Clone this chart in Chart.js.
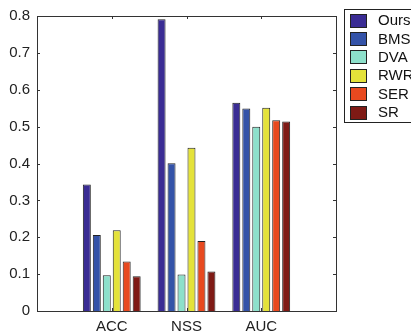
<!DOCTYPE html>
<html>
<head>
<meta charset="utf-8">
<script src="https://cdn.jsdelivr.net/npm/chart.js@4/dist/chart.umd.min.js"></script>
<style>
  html, body { margin: 0; padding: 0; background: #fff; }
  #wrap { width: 411px; height: 335px; }
</style>
</head>
<body>
<div id="wrap"><canvas id="chart" width="411" height="335"></canvas></div>
<script>
// --- data ---
const categories = ['ACC', 'NSS', 'AUC'];
const methods = ['Ours', 'BMS', 'DVA', 'RWR', 'SER', 'SR'];
const ours = [0.343, 0.791, 0.565];
const bms  = [0.206, 0.401, 0.549];
const dva  = [0.097, 0.099, 0.500];
const rwr  = [0.219, 0.443, 0.551];
const ser  = [0.134, 0.190, 0.517];
const sr   = [0.094, 0.107, 0.514];
const yTicks = [0, 0.1, 0.2, 0.3, 0.4, 0.5, 0.6, 0.7, 0.8];

const colors = ['#3a2c94', '#3453a8', '#8de0cb', '#e4e23a', '#e8491f', '#7f1a15'];
const series = [ours, bms, dva, rwr, ser, sr];

// pad with an empty slot on each side so the x range runs 0..4 like the original
const labels = [''].concat(categories, ['']);
const pad = arr => [null].concat(arr, [null]);

Chart.defaults.font.family = '"Liberation Sans", Arial, Helvetica, sans-serif';
Chart.defaults.font.size = 15;
Chart.defaults.color = '#222';

// box + inward ticks, matlab style
const framePlugin = {
    id: 'frame',
    afterDraw(chart) {
        const { ctx, chartArea: a, scales } = chart;
        const t = 3;
        ctx.save();
        ctx.strokeStyle = '#333';
        ctx.lineWidth = 1;
        ctx.strokeRect(Math.round(a.left) + 0.5, Math.round(a.top) + 0.5,
            Math.round(a.right - a.left), Math.round(a.bottom - a.top));
        ctx.beginPath();
        yTicks.forEach(v => {
            const y = Math.round(scales.y.getPixelForValue(v)) + 0.5;
            ctx.moveTo(a.left, y); ctx.lineTo(a.left + t, y);
            ctx.moveTo(a.right, y); ctx.lineTo(a.right - t, y);
        });
        categories.forEach((c, i) => {
            const x = Math.round(scales.x.getPixelForValue(i + 1)) + 0.5;
            ctx.moveTo(x, a.bottom); ctx.lineTo(x, a.bottom - t);
            ctx.moveTo(x, a.top); ctx.lineTo(x, a.top + t);
        });
        ctx.stroke();

        // legend box
        const lx = 344, ly = 9, rowH = 18.4;
        ctx.fillStyle = '#fff';
        ctx.fillRect(lx, ly, 80, 113);
        ctx.strokeStyle = '#222';
        ctx.strokeRect(lx + 0.5, ly + 0.5, 80, 113);
        ctx.font = '15px "Liberation Sans", Arial, sans-serif';
        ctx.textBaseline = 'middle';
        chart.data.datasets.forEach((ds, i) => {
            const cy = ly + 11 + i * rowH;
            ctx.fillStyle = ds.backgroundColor;
            ctx.fillRect(350, Math.round(cy - 6.5), 16, 13);
            ctx.strokeStyle = '#222';
            ctx.strokeRect(350.5, Math.round(cy - 6.5) + 0.5, 16, 13);
            ctx.fillStyle = '#111';
            ctx.fillText(ds.label, 378, cy + 1);
        });
        ctx.restore();
    }
};

new Chart(document.getElementById('chart'), {
    type: 'bar',
    data: {
        labels: labels,
        datasets: methods.map((m, i) => ({
            label: m,
            data: pad(series[i]),
            backgroundColor: colors[i],
            borderColor: '#222',
            borderWidth: 1,
            categoryPercentage: 0.8,
            barPercentage: 0.8
        }))
    },
    options: {
        responsive: false,
        animation: false,
        layout: { padding: { top: 10, right: 75, left: 0, bottom: 0 } },
        plugins: { legend: { display: false }, tooltip: { enabled: false } },
        scales: {
            x: {
                offset: false,
                grid: { display: false, drawTicks: false },
                border: { display: false },
                ticks: { padding: 7, maxRotation: 0, autoSkip: false },
                afterFit: s => { s.height = 24; }
            },
            y: {
                min: 0, max: 0.8,
                grid: { display: false, drawTicks: false },
                border: { display: false },
                ticks: { stepSize: 0.1, padding: 7, callback: v => +v.toFixed(1) },
                afterFit: s => { s.width = 37; }
            }
        }
    },
    plugins: [framePlugin]
});
</script>
</body>
</html>
